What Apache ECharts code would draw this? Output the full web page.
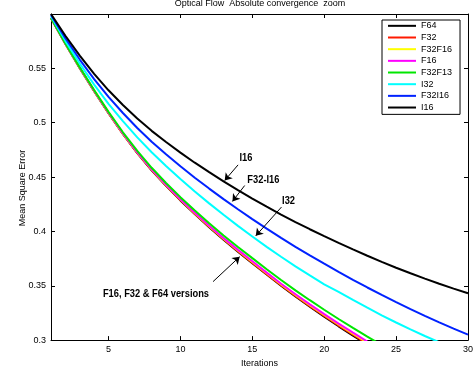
<!DOCTYPE html>
<html>
<head>
<meta charset="utf-8">
<script src="https://cdn.jsdelivr.net/npm/echarts@6/dist/echarts.min.js"></script>
<style>
  html, body { margin: 0; padding: 0; background: #fff; }
  #chart { width: 476px; height: 373px; }
</style>
</head>
<body>
<div id="chart"></div>
<script>
// iterations on the x axis
const iterations = [1, 2, 3, 4, 5, 6, 7, 8, 9, 10, 11, 12, 13, 14, 15,
  16, 17, 18, 19, 20, 21, 22, 23, 24, 25, 26, 27, 28, 29, 30];

// mean square error per version
const f64 = [0.5964, 0.5726, 0.5502, 0.5290, 0.5087, 0.4896, 0.4720, 0.4562, 0.4419, 0.4285,
  0.4159, 0.4039, 0.3923, 0.3814, 0.3708, 0.3603, 0.3501, 0.3402, 0.3308, 0.3216,
  0.3127, 0.3041, 0.2959];
const f32 = [0.5964, 0.5726, 0.5503, 0.5291, 0.5088, 0.4897, 0.4722, 0.4564, 0.4421, 0.4288,
  0.4162, 0.4042, 0.3927, 0.3818, 0.3712, 0.3607, 0.3505, 0.3407, 0.3313, 0.3222,
  0.3134, 0.3049, 0.2966];
const f32f16 = [0.5964, 0.5727, 0.5504, 0.5293, 0.5090, 0.4900, 0.4725, 0.4568, 0.4425, 0.4293,
  0.4167, 0.4048, 0.3933, 0.3825, 0.3719, 0.3615, 0.3513, 0.3416, 0.3322, 0.3232,
  0.3144, 0.3059, 0.2977];
const f16 = [0.5964, 0.5727, 0.5505, 0.5294, 0.5092, 0.4902, 0.4727, 0.4570, 0.4428, 0.4296,
  0.4171, 0.4052, 0.3938, 0.3830, 0.3725, 0.3621, 0.3519, 0.3422, 0.3329, 0.3239,
  0.3152, 0.3068, 0.2986];
const f32f13 = [0.5964, 0.5729, 0.5509, 0.5300, 0.5100, 0.4912, 0.4740, 0.4585, 0.4445, 0.4315,
  0.4192, 0.4075, 0.3963, 0.3857, 0.3754, 0.3652, 0.3553, 0.3458, 0.3367, 0.3279,
  0.3194, 0.3112, 0.3032, 0.2954];
const i32 = [0.5980, 0.5753, 0.5544, 0.5350, 0.5174, 0.5014, 0.4865, 0.4728, 0.4602, 0.4482,
  0.4367, 0.4258, 0.4153, 0.4051, 0.3953, 0.3858, 0.3767, 0.3679, 0.3595, 0.3513,
  0.3444, 0.3369, 0.3298, 0.3228, 0.3162, 0.3098, 0.3038, 0.2980, 0.2924, 0.2870];
const f32i16 = [0.5990, 0.5777, 0.5581, 0.5401, 0.5237, 0.5089, 0.4951, 0.4825, 0.4710, 0.4600,
  0.4494, 0.4394, 0.4297, 0.4204, 0.4113, 0.4025, 0.3940, 0.3858, 0.3780, 0.3703,
  0.3628, 0.3555, 0.3484, 0.3416, 0.3349, 0.3285, 0.3223, 0.3163, 0.3106, 0.3050];
const i16 = [0.6000, 0.5800, 0.5617, 0.5449, 0.5298, 0.5163, 0.5038, 0.4925, 0.4822, 0.4725,
  0.4632, 0.4545, 0.4461, 0.4380, 0.4302, 0.4227, 0.4155, 0.4086, 0.4020, 0.3956,
  0.3894, 0.3834, 0.3776, 0.3720, 0.3666, 0.3615, 0.3566, 0.3519, 0.3474, 0.3431];

const seriesNames = ['F64', 'F32', 'F32F16', 'F16', 'F32F13', 'I32', 'F32I16', 'I16'];
const seriesValues = [f64, f32, f32f16, f16, f32f13, i32, f32i16, i16];
const seriesColors = ['#000000', '#ff1a00', '#ffff00', '#ff00ff', '#00e600', '#00ffff', '#0022ff', '#000000'];

// annotation texts and arrows, in data coordinates
const noteTexts = [
  { text: 'I16', coord: [14.56, 0.4676] },
  { text: 'F32-I16', coord: [15.77, 0.4472] },
  { text: 'I32', coord: [17.52, 0.4277] },
  { text: 'F16, F32 & F64 versions', coord: [8.3, 0.343] }
];
const noteArrows = [
  [[14.01, 0.4612], [13.08, 0.4468]],
  [[14.47, 0.4422], [13.62, 0.4276]],
  [[17.03, 0.4224], [15.24, 0.3959]],
  [[12.27, 0.3538], [14.12, 0.3767]]
];

const chart = echarts.init(document.getElementById('chart'));

const axisFont = { fontFamily: 'Liberation Sans, Arial, sans-serif', fontSize: 9, color: '#000' };

const series = seriesNames.map((name, k) => ({
  name: name,
  type: 'line',
  data: seriesValues[k].map((v, i) => [iterations[i], v]),
  color: seriesColors[k],
  showSymbol: false,
  lineStyle: { width: 2, color: seriesColors[k] },
  emphasis: { disabled: true },
  z: 2 + k * 0.01
}));

// arrows hang off the last series
series[series.length - 1].markLine = {
  silent: true,
  symbol: ['none', 'arrow'],
  symbolSize: 7,
  lineStyle: { color: '#000', width: 1, type: 'solid' },
  itemStyle: { color: '#000' },
  label: { show: false },
  emphasis: { disabled: true },
  data: noteArrows.map(a => [{ coord: a[0] }, { coord: a[1] }])
};

const option = {
  animation: false,
  backgroundColor: '#fff',
  title: {
    text: 'Optical Flow  Absolute convergence  zoom',
    left: 260,
    textAlign: 'center',
    top: -1,
    padding: 0,
    textStyle: { fontFamily: 'Liberation Sans, Arial, sans-serif', fontSize: 9, fontWeight: 'normal', color: '#000' }
  },
  legend: {
    data: seriesNames,
    orient: 'vertical',
    left: 382,
    top: 20,
    icon: 'rect',
    itemWidth: 28,
    itemHeight: 2,
    itemGap: 0,
    padding: [0, 8, 1, 6],
    borderColor: '#000',
    borderWidth: 1,
    backgroundColor: '#fff',
    selectedMode: false,
    textStyle: { fontFamily: 'Liberation Sans, Arial, sans-serif', fontSize: 9, lineHeight: 11.67, color: '#000' }
  },
  grid: { left: 51, right: 8, top: 14, bottom: 31 },
  xAxis: [
    {
      type: 'value',
      min: 1,
      max: 30,
      name: 'Iterations',
      nameLocation: 'middle',
      nameGap: 16,
      nameTextStyle: axisFont,
      axisLine: { onZero: false, lineStyle: { color: '#000', width: 1 } },
      axisTick: { inside: true, length: 4, lineStyle: { color: '#000' } },
      axisLabel: Object.assign({ margin: 5, showMinLabel: false }, axisFont),
      splitLine: { show: false }
    },
    {
      type: 'value',
      min: 1,
      max: 30,
      position: 'top',
      axisLine: { onZero: false, lineStyle: { color: '#000', width: 1 } },
      axisTick: { inside: true, length: 4, lineStyle: { color: '#000' } },
      axisLabel: { show: false },
      splitLine: { show: false }
    }
  ],
  yAxis: [
    {
      type: 'value',
      min: 0.3,
      max: 0.6,
      interval: 0.05,
      axisLine: { show: true, onZero: false, lineStyle: { color: '#000', width: 1 } },
      axisTick: { show: true, inside: true, length: 4, lineStyle: { color: '#000' } },
      axisLabel: Object.assign({ margin: 5, showMaxLabel: false }, axisFont),
      splitLine: { show: false }
    },
    {
      type: 'value',
      min: 0.3,
      max: 0.6,
      interval: 0.05,
      position: 'right',
      axisLine: { show: true, onZero: false, lineStyle: { color: '#000', width: 1 } },
      axisTick: { show: true, inside: true, length: 4, lineStyle: { color: '#000' } },
      axisLabel: { show: false },
      splitLine: { show: false }
    }
  ],
  series: series
};

chart.setOption(option);

// y axis title and the narrow bold annotations, placed through the axes
const graphics = [
  {
    type: 'text',
    x: 22.7,
    y: 188,
    rotation: Math.PI / 2,
    style: {
      text: 'Mean Square Error',
      fontFamily: 'Liberation Sans, Arial, sans-serif',
      fontSize: 9,
      fill: '#000',
      align: 'center',
      verticalAlign: 'middle'
    }
  }
];
noteTexts.forEach(t => {
  const p = chart.convertToPixel({ xAxisIndex: 0, yAxisIndex: 0 }, t.coord);
  graphics.push({
    type: 'text',
    x: p[0],
    y: p[1],
    scaleX: 0.81,
    style: {
      text: t.text,
      fontFamily: 'Liberation Sans, Arial, sans-serif',
      fontWeight: 'bold',
      fontSize: 11.5,
      fill: '#000',
      align: 'center',
      verticalAlign: 'middle'
    }
  });
});
chart.setOption({ graphic: graphics });
</script>
</body>
</html>
